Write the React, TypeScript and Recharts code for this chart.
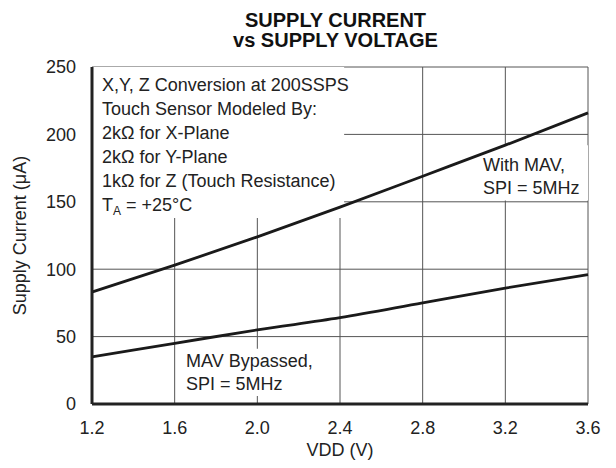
import React from "react";
import {
  LineChart,
  Line,
  XAxis,
  YAxis,
  CartesianGrid,
  ReferenceArea,
} from "recharts";

const voltages = [1.2, 1.6, 2.0, 2.4, 2.8, 3.2, 3.6];
const withMav = [83, 103, 124, 146, 169, 192, 216];
const mavBypassed = [35, 45, 55, 64, 75, 86, 96];

const xTicks = [1.2, 1.6, 2.0, 2.4, 2.8, 3.2, 3.6];
const yTicks = [0, 50, 100, 150, 200, 250];

const noteLines = [
  "X,Y, Z Conversion at 200SSPS",
  "Touch Sensor Modeled By:",
  "2kΩ for X-Plane",
  "2kΩ for Y-Plane",
  "1kΩ for Z (Touch Resistance)",
];

const data = voltages.map((v, i) => ({
  vdd: v,
  withMav: withMav[i],
  bypassed: mavBypassed[i],
}));

const FONT = "'Liberation Sans', Arial, Helvetica, sans-serif";
const tickStyle = { fontSize: 18, fill: "#222", fontFamily: FONT };

export default function App() {
  return (
    <div
      style={{
        position: "absolute",
        left: 0,
        top: 0,
        width: 616,
        height: 468,
        background: "#fff",
        fontFamily: FONT,
        color: "#222",
      }}
    >
      <LineChart
        width={616}
        height={468}
        data={data}
        margin={{ top: 67, right: 28, bottom: 0, left: 20 }}
      >
        <CartesianGrid stroke="#555" strokeWidth={1} />
        {/* white boxes behind the annotations */}
        <ReferenceArea x1={1.2} x2={2.42} y1={138} y2={250} fill="#fff" fillOpacity={1} stroke="none" />
        <ReferenceArea x1={3.07} x2={3.6} y1={151} y2={192} fill="#fff" fillOpacity={1} stroke="none" />
        <ReferenceArea x1={1.63} x2={2.21} y1={6} y2={41} fill="#fff" fillOpacity={1} stroke="none" />
        <XAxis
          dataKey="vdd"
          type="number"
          domain={[1.2, 3.6]}
          ticks={xTicks}
          tickFormatter={(v: number) => v.toFixed(1)}
          tick={tickStyle}
          tickLine={false}
          tickMargin={11}
          height={64}
          axisLine={{ stroke: "#222", strokeWidth: 3 }}
        />
        <XAxis
          xAxisId="top"
          orientation="top"
          dataKey="vdd"
          type="number"
          domain={[1.2, 3.6]}
          ticks={xTicks}
          tick={false}
          tickLine={false}
          height={0}
          axisLine={{ stroke: "#222", strokeWidth: 3 }}
        />
        <YAxis
          type="number"
          domain={[0, 250]}
          ticks={yTicks}
          tick={tickStyle}
          tickLine={false}
          tickMargin={10}
          width={72}
          axisLine={{ stroke: "#222", strokeWidth: 3 }}
          label={{
            value: "Supply Current (μA)",
            angle: -90,
            position: "insideLeft",
            offset: 0,
            style: { textAnchor: "middle", fontSize: 18, fill: "#222", fontFamily: FONT },
          }}
        />
        <YAxis
          yAxisId="right"
          orientation="right"
          type="number"
          domain={[0, 250]}
          tick={false}
          tickLine={false}
          width={0}
          axisLine={{ stroke: "#222", strokeWidth: 3 }}
        />
        <Line
          type="monotone"
          dataKey="withMav"
          stroke="#1a1a1a"
          strokeWidth={2.8}
          dot={false}
          isAnimationActive={false}
        />
        <Line
          type="monotone"
          dataKey="bypassed"
          stroke="#1a1a1a"
          strokeWidth={2.8}
          dot={false}
          isAnimationActive={false}
        />
      </LineChart>

      {/* title */}
      <div
        style={{
          position: "absolute",
          left: 0,
          width: 671,
          top: 10,
          textAlign: "center",
          fontWeight: 700,
          fontSize: 20,
          lineHeight: "20px",
          color: "#111",
        }}
      >
        SUPPLY CURRENT
        <br />
        vs SUPPLY VOLTAGE
      </div>

      {/* conditions note */}
      <div
        style={{
          position: "absolute",
          left: 102,
          top: 73,
          fontSize: 18,
          lineHeight: "24px",
          whiteSpace: "nowrap",
        }}
      >
        {noteLines.map((t) => (
          <div key={t}>{t}</div>
        ))}
        <div>
          T<sub style={{ fontSize: 12, verticalAlign: "-4px", lineHeight: 0 }}>A</sub> = +25°C
        </div>
      </div>

      <div
        style={{
          position: "absolute",
          left: 483,
          top: 154,
          fontSize: 18,
          lineHeight: "23px",
          whiteSpace: "nowrap",
        }}
      >
        With MAV,
        <br />
        SPI = 5MHz
      </div>

      <div
        style={{
          position: "absolute",
          left: 186,
          top: 350,
          fontSize: 18,
          lineHeight: "23px",
          whiteSpace: "nowrap",
        }}
      >
        MAV Bypassed,
        <br />
        SPI = 5MHz
      </div>

      <div
        style={{
          position: "absolute",
          left: 92,
          width: 496,
          top: 440,
          textAlign: "center",
          fontSize: 18,
          lineHeight: "20px",
        }}
      >
        VDD (V)
      </div>
    </div>
  );
}
